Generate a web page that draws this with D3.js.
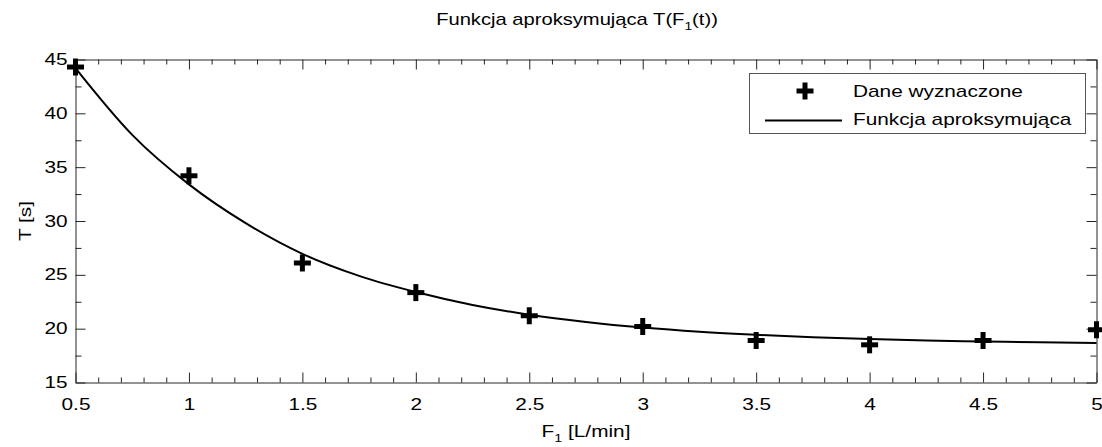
<!DOCTYPE html>
<html>
<head>
<meta charset="utf-8">
<script src="https://cdn.jsdelivr.net/npm/d3@7"></script>
<style>
  html, body { margin: 0; padding: 0; background: #fff; }
  svg { display: block; font-family: "Liberation Sans", Arial, sans-serif; }
</style>
</head>
<body>
<svg id="chart" width="1102" height="447"></svg>
<script>
// Measured points: flow F1 [L/min] and time constant T [s]
const flowValues = [0.5, 1, 1.5, 2, 2.5, 3, 3.5, 4, 4.5, 5];
const timeValues = [44.3, 34.2, 26.1, 23.35, 21.2, 20.2, 18.9, 18.5, 18.9, 19.9];

// Approximating function sampled along F1
const fitFlow = [0.5, 0.75, 1, 1.25, 1.5, 1.75, 2, 2.25, 2.5, 2.75, 3, 3.25, 3.5, 3.75, 4, 4.25, 4.5, 4.75, 5];
const fitTime = [44.2, 38.0, 33.4, 29.8, 26.95, 24.9, 23.4, 22.2, 21.3, 20.63, 20.11, 19.72, 19.43, 19.2, 19.03, 18.9, 18.81, 18.73, 18.68];

// Axis ticks
const xMajorTicks = [0.5, 1, 1.5, 2, 2.5, 3, 3.5, 4, 4.5, 5];
const yMajorTicks = [15, 20, 25, 30, 35, 40, 45];

const legendLabels = ["Dane wyznaczone", "Funkcja aproksymująca"];

const svg = d3.select("#chart");
const axisColor = "#262626";
const fontSize = 16;
const stretch = 1.3;   // wide lettering
const plot = { left: 75.5, right: 1096.5, top: 59.5, bottom: 382.5 };

const x = d3.scaleLinear().domain([0.5, 5]).range([plot.left, plot.right]);
const y = d3.scaleLinear().domain([15, 45]).range([plot.bottom, plot.top]);

const xMinor = d3.range(5, 51).map(v => v / 10).filter(v => !xMajorTicks.some(t => Math.abs(t - v) < 1e-9));
const yMinor = d3.range(15, 45, 2.5).filter(v => !yMajorTicks.includes(v));

const fmt = d => String(d);

// widen text horizontally while keeping its anchor point in place
function widen(sel, s = stretch) {
  sel.each(function () {
    const t = d3.select(this);
    const x0 = +(t.attr("x") || 0);
    t.attr("x", x0 / s).attr("transform", `scale(${s},1)`);
  });
}

function styleAxis(g) {
  g.selectAll(".domain").attr("stroke", axisColor).attr("stroke-width", 1);
  g.selectAll(".tick line").attr("stroke", axisColor).attr("stroke-width", 1);
  g.selectAll("text").attr("fill", "#000").attr("font-size", fontSize)
    .attr("font-family", "'Liberation Sans', Arial, sans-serif");
  widen(g.selectAll("text"));
}

// Bottom axis
svg.append("g").attr("transform", `translate(0,${plot.bottom})`)
  .call(d3.axisBottom(x).tickValues(xMajorTicks).tickFormat(fmt).tickSizeInner(-10).tickSizeOuter(0).tickPadding(16))
  .call(styleAxis);
svg.append("g").attr("transform", `translate(0,${plot.bottom})`)
  .call(d3.axisBottom(x).tickValues(xMinor).tickFormat("").tickSizeInner(-5).tickSizeOuter(0))
  .call(styleAxis).call(g => g.select(".domain").remove());

// Top axis
svg.append("g").attr("transform", `translate(0,${plot.top})`)
  .call(d3.axisTop(x).tickValues(xMajorTicks).tickFormat("").tickSizeInner(-10).tickSizeOuter(0))
  .call(styleAxis);
svg.append("g").attr("transform", `translate(0,${plot.top})`)
  .call(d3.axisTop(x).tickValues(xMinor).tickFormat("").tickSizeInner(-5).tickSizeOuter(0))
  .call(styleAxis).call(g => g.select(".domain").remove());

// Left axis
svg.append("g").attr("transform", `translate(${plot.left},0)`)
  .call(d3.axisLeft(y).tickValues(yMajorTicks).tickFormat(fmt).tickSizeInner(-10).tickSizeOuter(0).tickPadding(8))
  .call(styleAxis);
svg.append("g").attr("transform", `translate(${plot.left},0)`)
  .call(d3.axisLeft(y).tickValues(yMinor).tickFormat("").tickSizeInner(-6).tickSizeOuter(0))
  .call(styleAxis).call(g => g.select(".domain").remove());

// Right axis
svg.append("g").attr("transform", `translate(${plot.right},0)`)
  .call(d3.axisRight(y).tickValues(yMajorTicks).tickFormat("").tickSizeInner(-10).tickSizeOuter(0))
  .call(styleAxis);
svg.append("g").attr("transform", `translate(${plot.right},0)`)
  .call(d3.axisRight(y).tickValues(yMinor).tickFormat("").tickSizeInner(-6).tickSizeOuter(0))
  .call(styleAxis).call(g => g.select(".domain").remove());

// Approximating curve
const line = d3.line().x((d, i) => x(fitFlow[i])).y(d => y(d)).curve(d3.curveMonotoneX);
svg.append("path")
  .datum(fitTime)
  .attr("d", line)
  .attr("fill", "none")
  .attr("stroke", "#000")
  .attr("stroke-width", 2);

// Plus markers
function plusMarker(g, cx, cy) {
  const h = 8.5;
  g.append("line").attr("x1", cx - h).attr("x2", cx + h).attr("y1", cy).attr("y2", cy);
  g.append("line").attr("x1", cx).attr("x2", cx).attr("y1", cy - h).attr("y2", cy + h);
}
const markers = svg.append("g").attr("stroke", "#000").attr("stroke-width", 5);
flowValues.forEach((f, i) => plusMarker(markers, x(f), y(timeValues[i])));

// Title
const title = svg.append("g")
  .attr("transform", `translate(577,25) scale(${stretch * 0.97},1)`)
  .append("text")
  .attr("text-anchor", "middle")
  .attr("font-size", fontSize)
  .attr("fill", "#000");
title.append("tspan").text("Funkcja aproksymująca T(F");
title.append("tspan").attr("font-size", 11).attr("dy", 5).text("1");
title.append("tspan").attr("dy", -5).text("(t))");

// X label
const xl = svg.append("g")
  .attr("transform", `translate(${(plot.left + plot.right) / 2},437) scale(${stretch},1)`)
  .append("text")
  .attr("text-anchor", "middle")
  .attr("font-size", fontSize)
  .attr("fill", "#000");
xl.append("tspan").text("F");
xl.append("tspan").attr("font-size", 11).attr("dy", 5).text("1");
xl.append("tspan").attr("dy", -5).text(" [L/min]");

// Y label
svg.append("g")
  .attr("transform", `translate(31,${(plot.top + plot.bottom) / 2}) rotate(-90) scale(${stretch},1)`)
  .append("text")
  .attr("text-anchor", "middle")
  .attr("font-size", fontSize)
  .attr("fill", "#000")
  .text("T [s]");

// Legend
const legend = svg.append("g");
legend.append("rect")
  .attr("x", 749.5).attr("y", 73.5).attr("width", 336).attr("height", 60)
  .attr("fill", "#fff").attr("stroke", "#555").attr("stroke-width", 1);
const lm = legend.append("g").attr("stroke", "#000").attr("stroke-width", 5);
plusMarker(lm, 805, 91);
legend.append("line")
  .attr("x1", 765).attr("x2", 842).attr("y1", 120.5).attr("y2", 120.5)
  .attr("stroke", "#000").attr("stroke-width", 2);
legend.selectAll("text.lg")
  .data(legendLabels)
  .join("text")
  .attr("class", "lg")
  .attr("x", 853)
  .attr("y", (d, i) => 97 + i * 28)
  .attr("font-size", fontSize)
  .attr("fill", "#000")
  .text(d => d)
  .call(widen);
</script>
</body>
</html>
